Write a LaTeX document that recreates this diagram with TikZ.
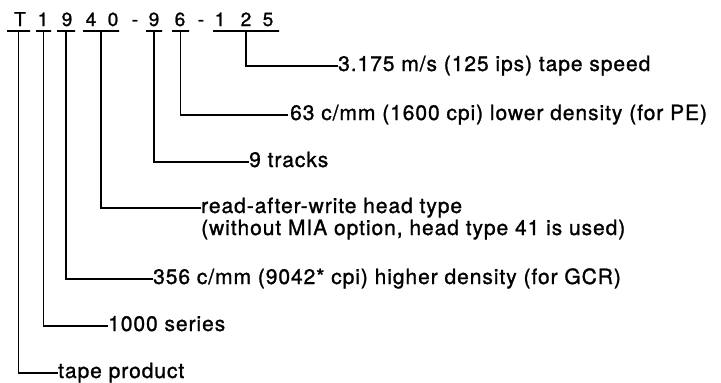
\documentclass[tikz,border=0pt]{standalone}
\usepackage{fontspec}
\setmainfont{TeX Gyre Heros}[FakeBold=1.2]
\newfontfamily\lblfont{TeX Gyre Heros}[LetterSpace=4.5,FakeBold=1.2]
\begin{document}
\begin{tikzpicture}[x=1pt,y=-1pt,
  code/.style={anchor=base, inner sep=0pt, font=\fontsize{19}{21}\selectfont},
  uline/.style={draw, line width=1.6pt, minimum height=0pt, inner sep=0pt, minimum width=#1},
  lbl/.style={anchor=base west, inner sep=0pt, font=\lblfont\fontsize{21}{22}\selectfont},
  conn/.style={line width=1.9pt}]
\useasboundingbox (0,0) rectangle (721,383);
% code characters
\node[code] (cT) at (20,26) {T};
\node[code] (c1) at (43,26) {1};
\node[code] (c9) at (67,26) {9};
\node[code] (c4) at (91,26) {4};
\node[code] (c0) at (113,26) {0};
\node[code] (d1) at (135,26) {-};
\node[code] (c9b) at (154,26) {9};
\node[code] (c6) at (180,26) {6};
\node[code] (d2) at (201,26) {-};
\node[code] (c1b) at (220,26) {1};
\node[code] (c2) at (246,26) {2};
\node[code] (c5) at (268,26) {5};
% underlines
\node[uline=23pt] (uT) at (18.5,31) {};
\node[uline=15pt] (u1) at (43.5,31) {};
\node[uline=18pt] (u9) at (66,31) {};
\node[uline=36pt] (u40) at (101,31) {};
\node[uline=16pt] (u9b) at (154,31) {};
\node[uline=17pt] (u6) at (180.5,31) {};
\node[uline=66pt] (u125) at (246,31) {};
% labels
\node[lbl] (t125) at (338,71) {3.175 m/s (125 ips) tape speed};
\node[lbl] (t6) at (290,120) {63 c/mm (1600 cpi) lower density (for PE)};
\node[lbl] (t9b) at (249,167) {9 tracks};
\node[lbl] (t40) at (201,213) {\vtop{\hbox{read-after-write head type}\hbox{(without MIA option, head type 41 is used)}}};
\node[lbl] (t9) at (153,284) {356 c/mm (9042* cpi) higher density (for GCR)};
\node[lbl] (t1) at (108,331) {1000 series};
\node[lbl] (tT) at (58,378) {tape product};
% connectors
\draw[conn] (u125.south) |- ([yshift=5pt]t125.base west);
\draw[conn, shorten >=2pt] (u6.south) |- ([yshift=5pt]t6.base west);
\draw[conn] (u9b.south) |- ([yshift=5pt]t9b.base west);
\draw[conn] (u40.south) |- ([yshift=5pt]t40.base west);
\draw[conn] (u9.south) |- ([yshift=5pt]t9.base west);
\draw[conn] (u1.south) |- ([yshift=5pt]t1.base west);
\draw[conn] (uT.south) |- ([yshift=5pt]tT.base west);
\end{tikzpicture}
\end{document}
